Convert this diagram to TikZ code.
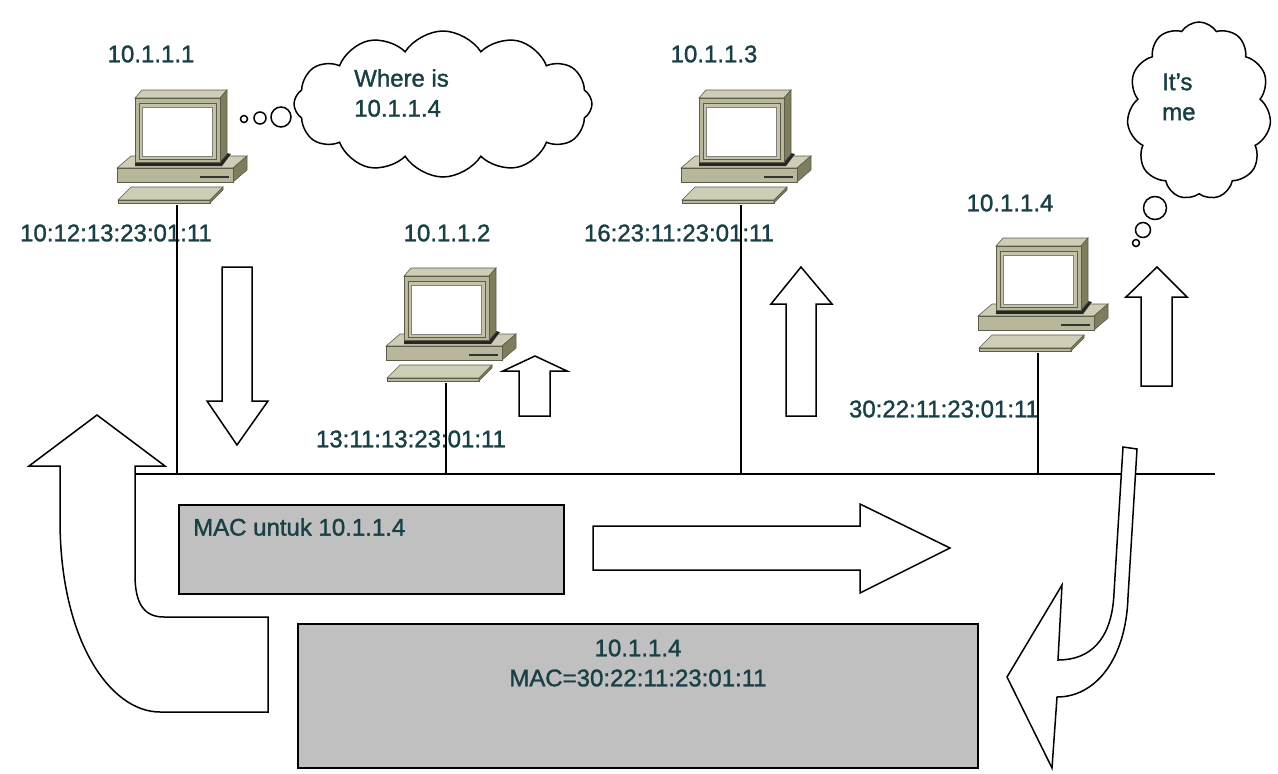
\documentclass[tikz,border=0pt]{standalone}
\usepackage{fontspec}
\setmainfont{Liberation Sans}
\newfontface\lblfont{Liberation Sans}[FakeBold=1.4]
\usetikzlibrary{shapes.symbols}
\definecolor{txt}{RGB}{24,64,70}
\definecolor{pctop}{RGB}{206,205,182}
\definecolor{pcfront}{RGB}{184,183,156}
\definecolor{pcside}{RGB}{126,125,96}
\definecolor{pcbezel}{RGB}{196,195,170}
\definecolor{pcedge}{RGB}{92,92,72}
\definecolor{boxgray}{RGB}{192,192,192}
\tikzset{
  pcline/.style={draw=pcedge, line width=0.6},
  lbl/.style={inner sep=0pt, text=txt, font=\lblfont\fontsize{24}{30}\selectfont},
  wire/.style={line width=1.8, black},
  blockarrow/.style={draw=black, fill=white, line width=1.5, line join=miter},
  graybox/.style={draw=black, fill=boxgray, line width=2},
  thought/.style={draw=black, line width=1.5, fill=white},
  pc/.pic={
    % base
    \filldraw[pcline, fill=pctop] (0,78)--(14,66)--(130,66)--(116,78)--cycle;
    \filldraw[pcline, fill=pcside] (116,78)--(130,66)--(130,80)--(116,92)--cycle;
    \filldraw[pcline, fill=pcfront] (0,78) rectangle (116,92);
    \draw[line width=1.6, black!80] (83,87)--(112,87);
    % shadow under monitor
    \fill[black!85] (18,71)--(103,71)--(110,63)--(114,64)--(105,76)--(18,76)--cycle;
    % monitor
    \filldraw[pcline, fill=pctop] (18,8)--(25,0)--(110,0)--(103,8)--cycle;
    \filldraw[pcline, fill=pcside] (103,8)--(110,0)--(110,64)--(103,72)--cycle;
    \filldraw[pcline, fill=pcfront] (18,8) rectangle (103,72);
    \filldraw[pcline, fill=pcbezel] (22,13) rectangle (99,69);
    \filldraw[draw=gray, line width=0.6, fill=white] (25,17) rectangle (95,66);
    % keyboard
    \filldraw[pcline, fill=pctop] (14,97)--(106,97)--(93,110)--(1,110)--cycle;
    \filldraw[pcline, fill=pcfront] (1,110) rectangle (93,113);
    \filldraw[pcline, fill=pcside] (106,97)--(106,100)--(93,113)--(93,110)--cycle;
    \coordinate (-port) at (60,115);
  }
}
\begin{document}
\begin{tikzpicture}[x=1pt, y=-1pt]
\useasboundingbox (0,0) rectangle (1278,774);

% thought clouds
\node[thought, cloud, cloud puffs=12, cloud puff arc=115, cloud ignores aspect,
      minimum width=298pt, minimum height=146pt, inner sep=0pt] (cloudA) at (443,104) {};
\node[thought, circle, inner sep=0pt, minimum size=20pt] (bA3) at (281,117) {};
\node[thought, circle, inner sep=0pt, minimum size=12pt] (bA2) at (260,118) {};
\node[thought, circle, inner sep=0pt, minimum size=7pt] (bA1) at (244,119) {};
\node[lbl, anchor=west, align=left] (qtext) at (354,93) {Where is\\10.1.1.4};

\node[thought, cloud, cloud puffs=11, cloud puff arc=115, cloud ignores aspect,
      minimum width=144pt, minimum height=178pt, inner sep=0pt] (cloudB) at (1199,111) {};
\node[thought, circle, inner sep=0pt, minimum size=23pt] (bB3) at (1155,208) {};
\node[thought, circle, inner sep=0pt, minimum size=15pt] (bB2) at (1143,230) {};
\node[thought, circle, inner sep=0pt, minimum size=7pt] (bB1) at (1136,243) {};
\node[lbl, anchor=west, align=left] (atext) at (1162,97) {It’s\\me};

% computers
\pic (pc1) at (117,90) {pc};
\pic (pc2) at (386,268) {pc};
\pic (pc3) at (681,90) {pc};
\pic (pc4) at (978,238) {pc};

% labels
\node[lbl] (ip1) at (151,54) {10.1.1.1};
\node[lbl] (mac1) at (116,233) {10:12:13:23:01:11};
\node[lbl] (ip2) at (447,233) {10.1.1.2};
\node[lbl] (mac2) at (411,439) {13:11:13:23:01:11};
\node[lbl] (ip3) at (714,54) {10.1.1.3};
\node[lbl] (mac3) at (679,233) {16:23:11:23:01:11};
\node[lbl] (ip4) at (1010,203) {10.1.1.4};
\node[lbl] (mac4) at (944,409) {30:22:11:23:01:11};

% bus and drops
\coordinate (busL) at (135,474);
\coordinate (busR) at (1215,474);
\draw[wire] (busL) -- (busR);
\draw[wire] (pc1-port) -- (pc1-port |- busL);
\draw[wire] (pc2-port) -- (pc2-port |- busL);
\draw[wire] (pc3-port) -- (pc3-port |- busL);
\draw[wire] (pc4-port) -- (pc4-port |- busL);

% straight block arrows
\draw[blockarrow] (222,267) -- (252,267) -- (252,401) -- (268,401) -- (237,445) -- (207,401) -- (222,401) -- cycle;
\draw[blockarrow] (519,416) -- (550,416) -- (550,371) -- (567,371) -- (535,356) -- (503,371) -- (519,371) -- cycle;
\draw[blockarrow] (786,416) -- (816,416) -- (816,304) -- (832,304) -- (801,267) -- (771,304) -- (786,304) -- cycle;
\draw[blockarrow] (1141,386) -- (1172,386) -- (1172,297) -- (1187,297) -- (1157,267) -- (1126,297) -- (1141,297) -- cycle;
\draw[blockarrow] (593,526) -- (860,526) -- (860,504) -- (950,548) -- (860,593) -- (860,570) -- (593,570) -- cycle;

% U-turn arrow on the left
\draw[blockarrow] (97,415) -- (165,466) -- (135,466) -- (135,575)
   .. controls (135,605) and (145,617) .. (164,617) -- (268,617) -- (268,712) -- (160,712)
   .. controls (110,712) and (60,640) .. (60,520) -- (60,466) -- (29,466) -- cycle;

% curved arrow on the right
\draw[blockarrow] (1123,447) -- (1137,449) -- (1128,597)
   .. controls (1126,660) and (1095,697) .. (1057,697) -- (1052,768) -- (1007,677) -- (1062,585) -- (1058,660)
   .. controls (1090,660) and (1112,640) .. (1114,593) -- cycle;

% boxes
\node[graybox, minimum width=385pt, minimum height=89pt, anchor=north west, inner sep=0pt] (box1) at (178,504) {};
\node[lbl, anchor=west] (box1text) at (193,527) {MAC untuk 10.1.1.4};
\node[graybox, minimum width=680pt, minimum height=144pt, anchor=north west, inner sep=0pt] (box2) at (297,623) {};
\node[lbl, align=center] (box2text) at (638,663) {10.1.1.4\\MAC=30:22:11:23:01:11};
\end{tikzpicture}
\end{document}
